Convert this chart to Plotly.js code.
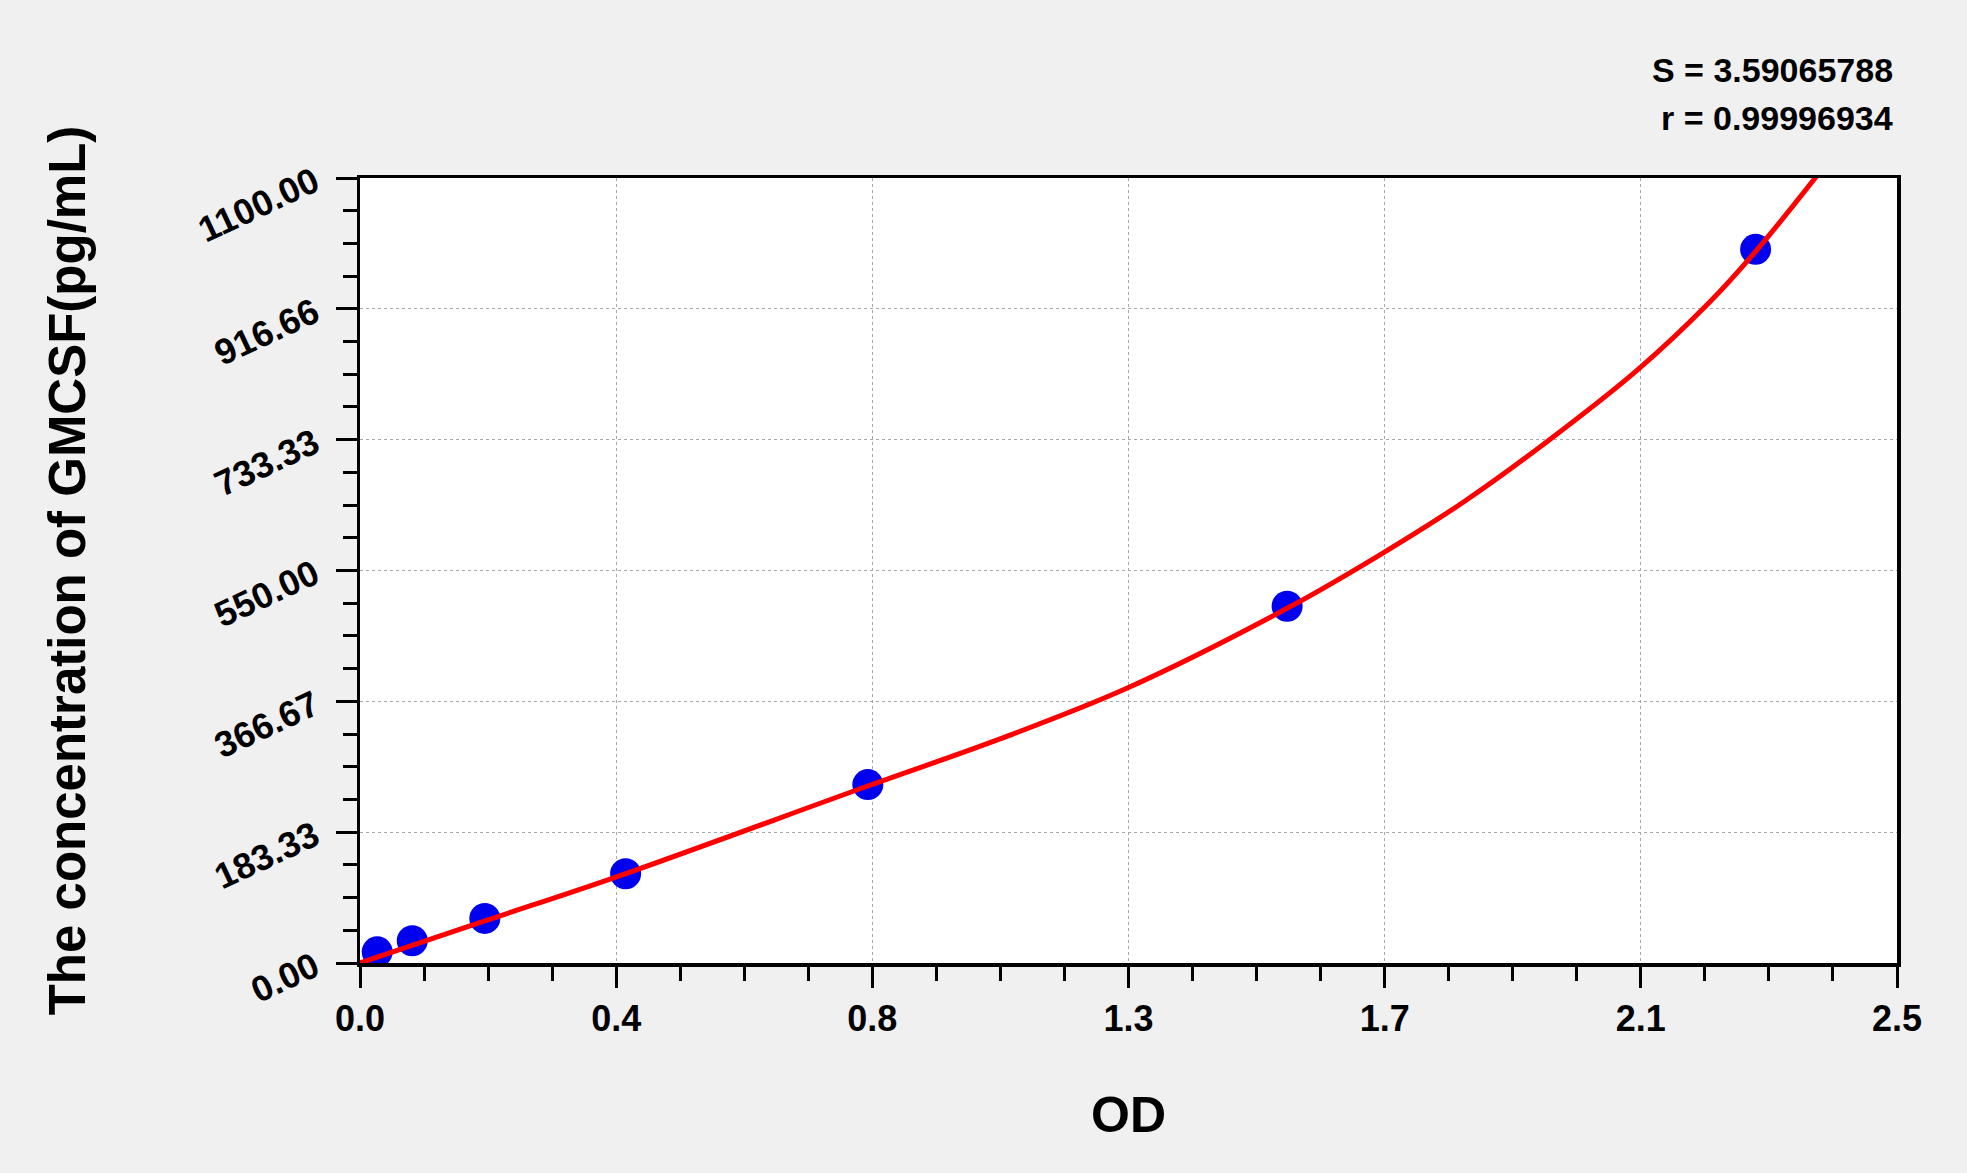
<!DOCTYPE html>
<html>
<head>
<meta charset="utf-8">
<script src="https://cdn.plot.ly/plotly-3.0.1.min.js"></script>
<style>
  html, body { margin: 0; padding: 0; background: #f0f0f0; }
  #chart { width: 1967px; height: 1173px; }
</style>
</head>
<body>
<div id="chart"></div>
<script>
// Standard points (OD vs concentration)
const stdOD   = [0.028, 0.085, 0.203, 0.432, 0.826, 1.508, 2.270];
const stdConc = [15.625, 31.25, 62.5, 125, 250, 500, 1000];

// Fitted curve
const curveOD   = [0, 0.203, 0.415, 0.826, 1.041, 1.25, 1.508, 1.659, 1.795, 1.93, 2.078, 2.193, 2.27, 2.376];
const curveConc = [0, 59, 120, 248, 314, 386, 497, 572, 646, 730, 831, 924, 997, 1110];

// Axis tick labels
const xTickText = ['0.0', '0.4', '0.8', '1.3', '1.7', '2.1', '2.5'];
const yTickText = ['0.00', '183.33', '366.67', '550.00', '733.33', '916.66', '1100.00'];
const xMax = 2.5, yMax = 1100;

// Fit statistics
const statS = 'S = 3.59065788';
const statR = 'r = 0.99996934';

const xTickVals = xTickText.map((_, i) => i * xMax / (xTickText.length - 1));
const yTickVals = yTickText.map((_, i) => i * yMax / (yTickText.length - 1));

const FONT = '"Liberation Sans", Arial, Helvetica, sans-serif';

const traces = [
  {
    x: stdOD, y: stdConc, type: 'scatter', mode: 'markers',
    marker: { color: '#0000ee', size: 31 },
    hoverinfo: 'x+y', showlegend: false
  },
  {
    x: curveOD, y: curveConc, type: 'scatter', mode: 'lines',
    line: { color: '#ff0000', width: 5, shape: 'spline', smoothing: 1 },
    showlegend: false
  }
];

const axisCommon = {
  showline: true, linecolor: '#000', linewidth: 3.5, mirror: true,
  ticks: 'outside', tickcolor: '#000', tickwidth: 3, ticklen: 21,
  showgrid: true, gridcolor: '#a8a8a8', gridwidth: 1, griddash: '3px,3px',
  zeroline: false, tickmode: 'array'
};

const layout = {
  width: 1967, height: 1173,
  paper_bgcolor: '#f0f0f0', plot_bgcolor: '#ffffff',
  margin: { l: 360, r: 70, t: 178, b: 210 },
  xaxis: Object.assign({}, axisCommon, {
    range: [0, xMax], tickvals: xTickVals, ticktext: xTickText,
    tickfont: { family: FONT, size: 36, color: '#000', weight: 700 },
    minor: { ticks: 'outside', ticklen: 14, tickwidth: 3, tickcolor: '#000', dtick: xMax / 24, tick0: 0, showgrid: false },
    title: { text: 'OD', font: { family: FONT, size: 50, color: '#000', weight: 700 }, standoff: 60 }
  }),
  yaxis: Object.assign({}, axisCommon, {
    range: [0, yMax], tickvals: yTickVals, ticktext: yTickText, tickangle: -25,
    ticklabelstandoff: 14,
    tickfont: { family: FONT, size: 36, color: '#000', weight: 700 },
    minor: { ticks: 'outside', ticklen: 14, tickwidth: 3, tickcolor: '#000', dtick: yMax / 24, tick0: 0, showgrid: false },
    title: { text: 'The concentration of GMCSF(pg/mL)', font: { family: FONT, size: 51, color: '#000', weight: 700 }, standoff: 91 }
  }),
  annotations: [
    { xref: 'paper', yref: 'paper', x: 0.999, y: 1.138, xanchor: 'right', yanchor: 'middle',
      text: statS, showarrow: false, font: { family: FONT, size: 34, color: '#000', weight: 700 } },
    { xref: 'paper', yref: 'paper', x: 0.999, y: 1.076, xanchor: 'right', yanchor: 'middle',
      text: statR, showarrow: false, font: { family: FONT, size: 34, color: '#000', weight: 700 } }
  ]
};

Plotly.newPlot('chart', traces, layout, { displayModeBar: false, staticPlot: true });
</script>
</body>
</html>
